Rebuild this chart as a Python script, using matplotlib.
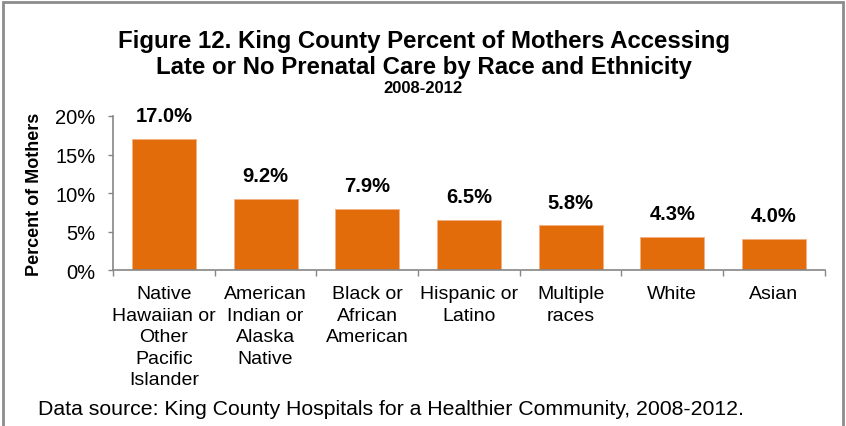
import matplotlib.pyplot as plt
from matplotlib.patches import Rectangle

plt.rcParams['font.family'] = ['Liberation Sans', 'DejaVu Sans']

# late or no prenatal care, King County 2008-2012
groups = ["Native\nHawaiian or\nOther\nPacific\nIslander",
          "American\nIndian or\nAlaska\nNative",
          "Black or\nAfrican\nAmerican",
          "Hispanic or\nLatino",
          "Multiple\nraces",
          "White",
          "Asian"]
pct = [17.0, 9.2, 7.9, 6.5, 5.8, 4.3, 4.0]
yticks = [0, 5, 10, 15, 20]

bar_color = "#E36C0A"
axis_gray = "#868686"

fig = plt.figure(figsize=(8.46, 4.27), dpi=100)
ax = fig.add_axes([0.1336, 0.365, 0.8414, 0.361])

x = list(range(len(groups)))
ax.bar(x, pct, width=0.63, color=bar_color, edgecolor="#F4B183", linewidth=0.6)

for xi, v in zip(x, pct):
    ax.annotate(f"{v:.1f}%", (xi, v), xytext=(0, 10), textcoords="offset points",
                ha="center", va="bottom", fontsize=14.5, fontweight="bold")

ax.set_xlim(-0.5, len(groups) - 0.5)
ax.set_ylim(0, 20)
ax.set_yticks(yticks)
ax.set_yticklabels([f"{t}%" for t in yticks], fontsize=14.5)
ax.set_xticks(x)
ax.set_xticklabels(groups, fontsize=14, linespacing=1.34)
ax.set_xticks([i - 0.5 for i in range(len(groups) + 1)], minor=True)
ax.tick_params(axis="x", which="major", length=0, pad=11)
ax.tick_params(axis="x", which="minor", length=4, color=axis_gray, width=1)
ax.tick_params(axis="y", length=3.6, color=axis_gray, width=1, pad=9)

for s in ["top", "right"]:
    ax.spines[s].set_visible(False)
for s in ["left", "bottom"]:
    ax.spines[s].set_color(axis_gray)
    ax.spines[s].set_linewidth(1.2)

ax.set_ylabel("Percent of Mothers", fontsize=13, fontweight="bold", labelpad=9)

fig.text(0.501, 0.872, "Figure 12. King County Percent of Mothers Accessing\n"
         "Late or No Prenatal Care by Race and Ethnicity",
         ha="center", va="center", fontsize=17.3, fontweight="bold", linespacing=1.17)
fig.text(0.5, 0.792, "2008-2012", ha="center", va="center", fontsize=12, fontweight="bold")

fig.text(0.045, 0.04, "Data source: King County Hospitals for a Healthier Community, 2008-2012.",
         ha="left", va="center", fontsize=15.3)

# outer frame, open at the bottom
fig.patches.append(Rectangle((0.004, -0.05), 0.992, 1.043, transform=fig.transFigure,
                             fill=False, edgecolor="#8C8C8C", linewidth=2))

fig.savefig("out.png", dpi=100)
